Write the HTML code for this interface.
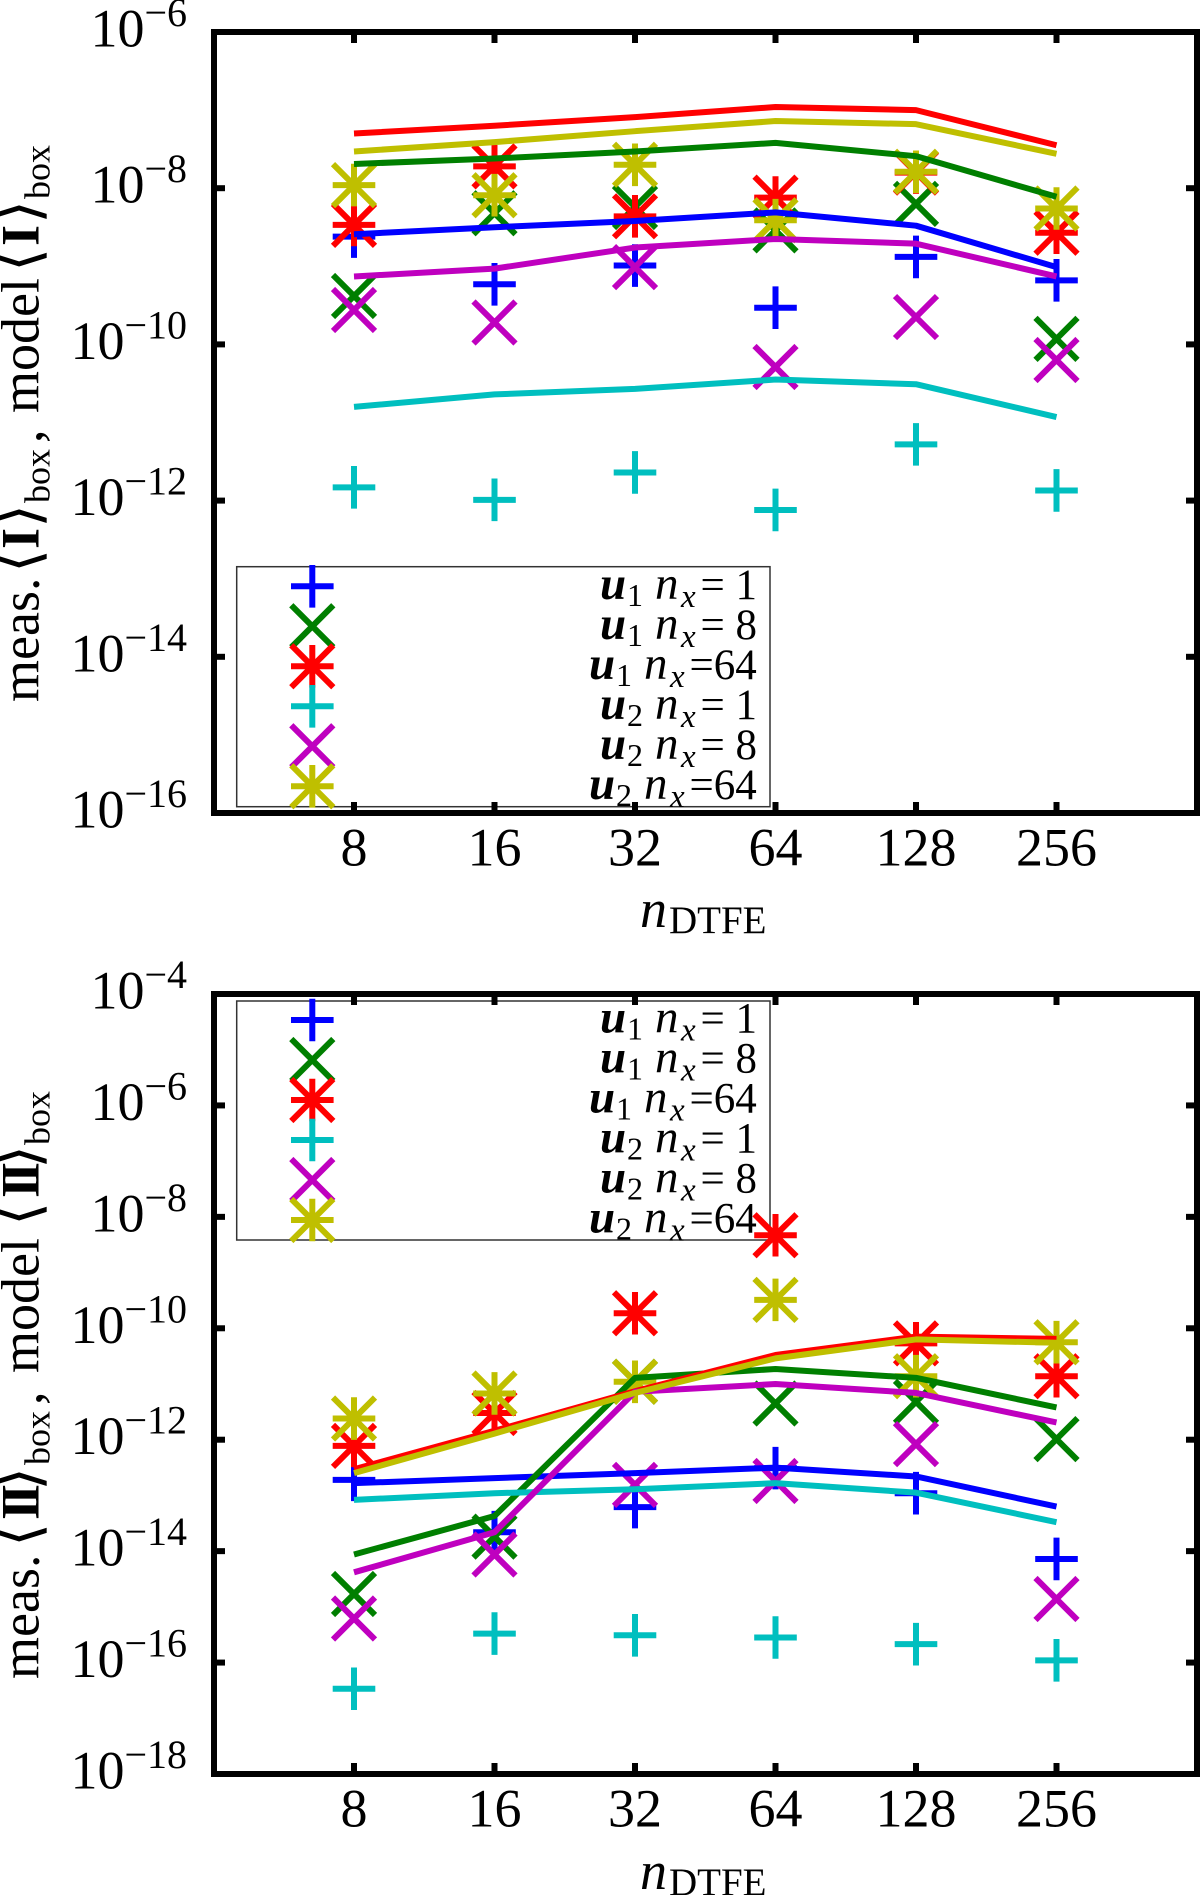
<!DOCTYPE html>
<html lang="en">
<head>
<meta charset="utf-8">
<title>Measured and model box averages versus nDTFE</title>
<style>
html,body{margin:0;padding:0;background:#fff;}
svg{display:block;}
text{font-family:"Liberation Serif","DejaVu Serif",serif;fill:#000;}
.br{font-family:"DejaVu Sans",sans-serif;}
</style>
</head>
<body>
<svg id="figure" xmlns="http://www.w3.org/2000/svg" width="1200" height="1895" viewBox="0 0 1200 1895">
<rect x="0" y="0" width="1200" height="1895" fill="#fff"/>

<text transform="translate(38.5,0) rotate(-90)" font-size="54"><tspan x="-702" y="0">meas.</tspan><tspan class="br" x="-573" y="0" font-size="62">⟨</tspan><tspan x="-549" y="0" font-weight="bold">I</tspan><tspan class="br" x="-528" y="0" font-size="62">⟩</tspan><tspan x="-503" y="11" font-size="36">box</tspan><tspan x="-443" y="3">,</tspan><tspan x="-413" y="0">model</tspan><tspan class="br" x="-272" y="0" font-size="62">⟨</tspan><tspan x="-246" y="0" font-weight="bold">I</tspan><tspan class="br" x="-224" y="0" font-size="62">⟩</tspan><tspan x="-199" y="11" font-size="36">box</tspan></text>

<text transform="translate(38.5,0) rotate(-90)" font-size="54"><tspan x="-1679" y="0">meas.</tspan><tspan class="br" x="-1547" y="0" font-size="62">⟨</tspan><tspan x="-1520" y="0" font-weight="bold" letter-spacing="-6">II</tspan><tspan class="br" x="-1491" y="0" font-size="62">⟩</tspan><tspan x="-1465" y="11" font-size="36">box</tspan><tspan x="-1405" y="3">,</tspan><tspan x="-1373" y="0">model</tspan><tspan class="br" x="-1226" y="0" font-size="62">⟨</tspan><tspan x="-1198" y="0" font-weight="bold" letter-spacing="-6">II</tspan><tspan class="br" x="-1169" y="0" font-size="62">⟩</tspan><tspan x="-1145" y="11" font-size="36">box</tspan></text>

<text font-size="54"><tspan x="640" y="927" font-style="italic">n</tspan><tspan x="669" y="933" font-size="39">DTFE</tspan></text>
<text font-size="54"><tspan x="640" y="1889" font-style="italic">n</tspan><tspan x="669" y="1895" font-size="39">DTFE</tspan></text>
</svg>

<script>
// Shared categories (n_DTFE) and tick labels
const categories = [8, 16, 32, 64, 128, 256];
const topTickExponents = [-6, -8, -10, -12, -14, -16];
const bottomTickExponents = [-4, -6, -8, -10, -12, -14, -16, -18];

// Legend entries
const legendVector = ['1', '1', '1', '2', '2', '2'];
const legendNx = ['1', '8', '64', '1', '8', '64'];

// Top panel: log10 of measured <I>box (points)
const topPointsU1N1 = [-8.62, -9.23, -8.99, -9.53, -8.88, -9.18];
const topPointsU1N8 = [-9.38, -8.32, -8.24, -8.54, -8.20, -9.93];
const topPointsU1N64 = [-8.47, -7.72, -8.36, -8.12, -7.80, -8.57];
const topPointsU2N1 = [-11.83, -11.99, -11.64, -12.12, -11.28, -11.87];
const topPointsU2N8 = [-9.56, -9.72, -9.01, -10.29, -9.65, -10.20];
const topPointsU2N64 = [-7.96, -8.09, -7.70, -8.41, -7.79, -8.26];

// Top panel: log10 of model <I>box (lines)
const topLineU1N1 = [-8.59, -8.50, -8.42, -8.31, -8.48, -9.01];
const topLineU1N8 = [-7.69, -7.62, -7.53, -7.42, -7.59, -8.11];
const topLineU1N64 = [-7.30, -7.20, -7.09, -6.96, -7.00, -7.45];
const topLineU2N1 = [-10.80, -10.64, -10.57, -10.45, -10.51, -10.93];
const topLineU2N8 = [-9.13, -9.03, -8.76, -8.65, -8.71, -9.13];
const topLineU2N64 = [-7.53, -7.41, -7.27, -7.14, -7.18, -7.56];

// Bottom panel: log10 of measured <II>box (points)
const bottomPointsU1N1 = [-12.72, -13.66, -13.21, -12.51, -12.96, -14.14];
const bottomPointsU1N8 = [-14.77, -13.74, -10.96, -11.35, -11.32, -11.99];
const bottomPointsU1N64 = [-12.11, -11.52, -9.73, -8.33, -10.27, -10.86];
const bottomPointsU2N1 = [-16.47, -15.48, -15.51, -15.55, -15.67, -15.96];
const bottomPointsU2N8 = [-15.21, -14.06, -12.81, -12.74, -12.08, -14.86];
const bottomPointsU2N64 = [-11.62, -11.17, -10.96, -9.49, -10.86, -10.25];

// Bottom panel: log10 of model <II>box (lines)
const bottomLineU1N1 = [-12.78, -12.69, -12.60, -12.50, -12.66, -13.20];
const bottomLineU1N8 = [-14.06, -13.37, -10.89, -10.73, -10.89, -11.42];
const bottomLineU1N64 = [-12.53, -11.84, -11.13, -10.48, -10.15, -10.19];
const bottomLineU2N1 = [-13.08, -12.96, -12.89, -12.78, -12.95, -13.48];
const bottomLineU2N8 = [-14.38, -13.66, -11.14, -11.00, -11.16, -11.69];
const bottomLineU2N64 = [-12.60, -11.89, -11.16, -10.54, -10.20, -10.26];

const SVG_NS = 'http://www.w3.org/2000/svg';
const figure = document.getElementById('figure');
const seriesKeys = ['u1-nx1', 'u1-nx8', 'u1-nx64', 'u2-nx1', 'u2-nx8', 'u2-nx64'];
const seriesColors = ['#0000ff', '#007f00', '#ff0000', '#00bfbf', '#bf00bf', '#bfbf00'];
const seriesShapes = ['plus', 'cross', 'star', 'plus', 'cross', 'star'];

const FRAME_LEFT = 214;
const FRAME_RIGHT = 1197;
const STROKE = 6;

function xScale(n) {
  return 354 + 140.5 * (Math.log2(n) - 3);
}

function markerPath(shape, cx, cy) {
  const p = 21.3;
  const d = 21;
  const plus = 'M' + (cx - p) + ' ' + cy + 'H' + (cx + p) + 'M' + cx + ' ' + (cy - p) + 'V' + (cy + p);
  const cross = 'M' + (cx - d) + ' ' + (cy - d) + 'L' + (cx + d) + ' ' + (cy + d) + 'M' + (cx - d) + ' ' + (cy + d) + 'L' + (cx + d) + ' ' + (cy - d);
  if (shape === 'plus') return plus;
  if (shape === 'cross') return cross;
  return plus + cross;
}

function drawMarker(parent, index, cx, cy, name) {
  const m = document.createElementNS(SVG_NS, 'path');
  m.setAttribute('d', markerPath(seriesShapes[index], cx, cy));
  m.setAttribute('fill', 'none');
  m.setAttribute('stroke', seriesColors[index]);
  m.setAttribute('stroke-width', STROKE);
  
  
  parent.appendChild(m);
}

function drawSegment(parent, x1, y1, x2, y2, width, color, name) {
  const l = document.createElementNS(SVG_NS, 'line');
  l.setAttribute('x1', x1);
  l.setAttribute('y1', y1);
  l.setAttribute('x2', x2);
  l.setAttribute('y2', y2);
  l.setAttribute('stroke', color);
  l.setAttribute('stroke-width', width);
  
  
  parent.appendChild(l);
}

function drawLegend(parent, panel, boxTop, boxBottom, firstRowY) {
  const box = document.createElementNS(SVG_NS, 'rect');
  box.setAttribute('x', 236.7);
  box.setAttribute('y', boxTop);
  box.setAttribute('width', 533.3);
  box.setAttribute('height', boxBottom - boxTop);
  box.setAttribute('fill', 'none');
  box.setAttribute('stroke', '#333');
  box.setAttribute('stroke-width', 1.5);
  
  
  parent.appendChild(box);

  legendNx.forEach(function (nx, i) {
    const rowY = firstRowY + 40 * i;
    const base = rowY + 12.7;
    const shift = nx.length > 1 ? -11 : 0;
    const label = document.createElementNS(SVG_NS, 'text');
    label.setAttribute('font-size', 43);
    
    
    const eq = nx.length > 1 ? '=' + nx : '= ' + nx;
    const parts = [
      [600 + shift, base, 'u', 47, 'italic', 'bold'],
      [627 + shift, base + 7, legendVector[i], 32, 'normal', 'normal'],
      [655 + shift, base, 'n', 47, 'italic', 'normal'],
      [681 + shift, base + 8, 'x', 33, 'italic', 'normal'],
      [700.5 + shift, base, eq, 43, 'normal', 'normal']
    ];
    parts.forEach(function (p) {
      const t = document.createElementNS(SVG_NS, 'tspan');
      t.setAttribute('x', p[0]);
      t.setAttribute('y', p[1]);
      t.setAttribute('font-size', p[3]);
      t.setAttribute('font-style', p[4]);
      t.setAttribute('font-weight', p[5]);
      t.textContent = p[2];
      label.appendChild(t);
    });
    parent.appendChild(label);
    drawMarker(parent, i, 312.3, rowY, panel + '-legend-marker-' + seriesKeys[i]);
  });
}

function drawPanel(panel, cfg) {
  const g = document.createElementNS(SVG_NS, 'g');
  
  
  figure.appendChild(g);

  const ticks = cfg.tickExponents;
  const top = cfg.frameTop;
  const bottom = cfg.frameBottom;
  const perDecade = (bottom - top) / (ticks[0] - ticks[ticks.length - 1]);
  const yScale = function (v) { return top + (ticks[0] - v) * perDecade; };

  drawLegend(g, panel, cfg.legendTop, cfg.legendBottom, cfg.legendFirstRow);

  // y ticks and labels
  ticks.forEach(function (e) {
    const y = yScale(e);
    drawSegment(g, FRAME_LEFT, y, FRAME_LEFT + 11, y, 6, '#000', panel + '-y-tick-left');
    drawSegment(g, FRAME_RIGHT, y, FRAME_RIGHT - 11, y, 6, '#000', panel + '-y-tick-right');
    const label = document.createElementNS(SVG_NS, 'text');
    label.setAttribute('x', 187);
    label.setAttribute('y', y + 14.5);
    label.setAttribute('text-anchor', 'end');
    label.setAttribute('font-size', 54);
    
    
    label.appendChild(document.createTextNode('10'));
    const sup = document.createElementNS(SVG_NS, 'tspan');
    sup.setAttribute('font-size', 40);
    sup.setAttribute('dy', -20.5);
    sup.textContent = '\u2212' + Math.abs(e);
    label.appendChild(sup);
    g.appendChild(label);
  });

  // x ticks and labels
  categories.forEach(function (n) {
    const x = xScale(n);
    drawSegment(g, x, bottom, x, bottom - 11, 6, '#000', panel + '-x-tick-bottom');
    drawSegment(g, x, top, x, top + 11, 6, '#000', panel + '-x-tick-top');
    const label = document.createElementNS(SVG_NS, 'text');
    label.setAttribute('x', x);
    label.setAttribute('y', bottom + 52.5);
    label.setAttribute('text-anchor', 'middle');
    label.setAttribute('font-size', 54);
    
    
    label.textContent = String(n);
    g.appendChild(label);
  });

  // measured points
  cfg.points.forEach(function (values, s) {
    values.forEach(function (v, i) {
      drawMarker(g, s, xScale(categories[i]), yScale(v), panel + '-point-' + seriesKeys[s] + '-n' + categories[i]);
    });
  });

  // model lines
  cfg.lines.forEach(function (values, s) {
    const pts = values.map(function (v, i) {
      return xScale(categories[i]) + ',' + yScale(v);
    }).join(' ');
    const line = document.createElementNS(SVG_NS, 'polyline');
    line.setAttribute('points', pts);
    line.setAttribute('fill', 'none');
    line.setAttribute('stroke', seriesColors[s]);
    line.setAttribute('stroke-width', STROKE);
    line.setAttribute('stroke-linejoin', 'round');
    
    
    g.appendChild(line);
  });

  // frame
  const frame = document.createElementNS(SVG_NS, 'rect');
  frame.setAttribute('x', FRAME_LEFT);
  frame.setAttribute('y', top);
  frame.setAttribute('width', FRAME_RIGHT - FRAME_LEFT);
  frame.setAttribute('height', bottom - top);
  frame.setAttribute('fill', 'none');
  frame.setAttribute('stroke', '#000');
  frame.setAttribute('stroke-width', 6);
  
  
  g.appendChild(frame);
}

drawPanel('top', {
  tickExponents: topTickExponents,
  frameTop: 32,
  frameBottom: 813,
  legendTop: 566.7,
  legendBottom: 806.7,
  legendFirstRow: 586.3,
  points: [topPointsU1N1, topPointsU1N8, topPointsU1N64, topPointsU2N1, topPointsU2N8, topPointsU2N64],
  lines: [topLineU1N1, topLineU1N8, topLineU1N64, topLineU2N1, topLineU2N8, topLineU2N64]
});

drawPanel('bottom', {
  tickExponents: bottomTickExponents,
  frameTop: 994,
  frameBottom: 1774,
  legendTop: 1001,
  legendBottom: 1240,
  legendFirstRow: 1020,
  points: [bottomPointsU1N1, bottomPointsU1N8, bottomPointsU1N64, bottomPointsU2N1, bottomPointsU2N8, bottomPointsU2N64],
  lines: [bottomLineU1N1, bottomLineU1N8, bottomLineU1N64, bottomLineU2N1, bottomLineU2N8, bottomLineU2N64]
});
</script>
</body>
</html>
